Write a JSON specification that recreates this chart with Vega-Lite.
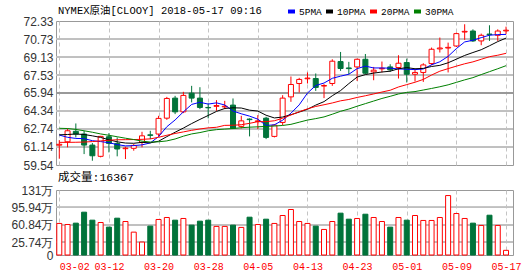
{
  "$schema": "https://vega.github.io/schema/vega-lite/v6.json",
  "background": "white",
  "padding": {"left": 10, "top": 5, "right": 4, "bottom": 2},
  "bounds": "flush",
  "spacing": 25,
  "config": {
    "view": {"stroke": "#999999", "strokeWidth": 1},
    "axis": {"labelFont": "Liberation Sans", "labelFontSize": 12, "labelColor": "#333333", "ticks": false, "domain": false, "gridColor": "#cccccc", "gridWidth": 1, "labelOverlap": false, "labelBound": false, "labelFlush": false},
    "legend": {"padding": 0, "offset": 0}
  },
  "datasets": {
    "k": [
      {"date":"03-02","open":61.30,"high":61.75,"low":60.10,"close":61.38,"vol":63.6,"5PMA":62.20,"10PMA":62.22,"20PMA":61.55,"30PMA":62.80},
      {"date":"03-05","open":61.60,"high":62.79,"low":61.11,"close":62.58,"vol":61.5,"5PMA":62.00,"10PMA":62.25,"20PMA":61.55,"30PMA":62.78},
      {"date":"03-06","open":62.53,"high":63.23,"low":61.99,"close":62.29,"vol":64.2,"5PMA":61.90,"10PMA":62.29,"20PMA":61.56,"30PMA":62.70},
      {"date":"03-07","open":62.29,"high":62.58,"low":60.51,"close":61.31,"vol":86.3,"5PMA":61.88,"10PMA":62.25,"20PMA":61.58,"30PMA":62.58},
      {"date":"03-08","open":61.31,"high":61.49,"low":59.92,"close":60.36,"vol":70.2,"5PMA":61.70,"10PMA":62.13,"20PMA":61.62,"30PMA":62.45},
      {"date":"03-09","open":60.31,"high":62.13,"low":60.22,"close":62.08,"vol":65.5,"5PMA":61.62,"10PMA":61.99,"20PMA":61.68,"30PMA":62.30},
      {"date":"03-12","open":62.05,"high":62.37,"low":60.66,"close":61.46,"vol":56.2,"5PMA":61.52,"10PMA":61.78,"20PMA":61.74,"30PMA":62.18},
      {"date":"03-13","open":61.46,"high":61.99,"low":60.31,"close":60.96,"vol":74.2,"5PMA":61.35,"10PMA":61.60,"20PMA":61.78,"30PMA":62.05},
      {"date":"03-14","open":60.99,"high":61.16,"low":60.07,"close":61.04,"vol":67.5,"5PMA":61.24,"10PMA":61.49,"20PMA":61.79,"30PMA":61.92},
      {"date":"03-15","open":61.02,"high":61.40,"low":60.81,"close":61.28,"vol":46.1,"5PMA":61.26,"10PMA":61.47,"20PMA":61.80,"30PMA":61.80},
      {"date":"03-16","open":61.55,"high":62.49,"low":61.11,"close":62.13,"vol":26.1,"5PMA":61.33,"10PMA":61.55,"20PMA":61.82,"30PMA":61.66},
      {"date":"03-19","open":62.22,"high":62.58,"low":61.84,"close":62.17,"vol":58.2,"5PMA":61.50,"10PMA":61.51,"20PMA":61.86,"30PMA":61.58},
      {"date":"03-20","open":62.29,"high":63.91,"low":62.08,"close":63.68,"vol":71.6,"5PMA":62.06,"10PMA":61.65,"20PMA":62.00,"30PMA":61.60},
      {"date":"03-21","open":63.70,"high":65.59,"low":63.55,"close":65.45,"vol":75.6,"5PMA":62.94,"10PMA":62.06,"20PMA":62.18,"30PMA":61.68},
      {"date":"03-22","open":65.48,"high":65.68,"low":64.06,"close":64.26,"vol":70.2,"5PMA":63.54,"10PMA":62.45,"20PMA":62.34,"30PMA":61.85},
      {"date":"03-23","open":64.26,"high":66.04,"low":64.15,"close":65.72,"vol":73.6,"5PMA":64.26,"10PMA":62.82,"20PMA":62.48,"30PMA":62.10},
      {"date":"03-26","open":65.92,"high":66.57,"low":65.10,"close":65.48,"vol":60.2,"5PMA":64.92,"10PMA":63.22,"20PMA":62.62,"30PMA":62.30},
      {"date":"03-27","open":65.48,"high":66.45,"low":64.50,"close":64.65,"vol":68.2,"5PMA":65.11,"10PMA":63.59,"20PMA":62.74,"30PMA":62.42},
      {"date":"03-28","open":64.65,"high":65.03,"low":63.68,"close":64.62,"vol":70.2,"5PMA":64.95,"10PMA":63.94,"20PMA":62.84,"30PMA":62.58},
      {"date":"03-29","open":64.75,"high":65.30,"low":64.35,"close":64.82,"vol":57.6,"5PMA":65.06,"10PMA":64.30,"20PMA":62.89,"30PMA":62.68},
      {"date":"03-30","open":64.70,"high":65.24,"low":64.50,"close":64.76,"vol":57.6,"5PMA":64.87,"10PMA":64.56,"20PMA":63.06,"30PMA":62.73},
      {"date":"04-02","open":64.86,"high":65.45,"low":62.73,"close":62.79,"vol":60.2,"5PMA":64.33,"10PMA":64.62,"20PMA":63.07,"30PMA":62.78},
      {"date":"04-03","open":62.97,"high":63.91,"low":62.79,"close":63.46,"vol":55.6,"5PMA":64.09,"10PMA":64.60,"20PMA":63.12,"30PMA":62.85},
      {"date":"04-04","open":63.62,"high":63.68,"low":62.08,"close":63.57,"vol":76.2,"5PMA":63.88,"10PMA":64.41,"20PMA":63.24,"30PMA":62.90},
      {"date":"04-05","open":63.40,"high":63.97,"low":62.73,"close":63.46,"vol":61.5,"5PMA":63.61,"10PMA":64.33,"20PMA":63.39,"30PMA":62.93},
      {"date":"04-06","open":63.70,"high":63.82,"low":61.84,"close":61.99,"vol":72.2,"5PMA":63.05,"10PMA":63.96,"20PMA":63.39,"30PMA":62.97},
      {"date":"04-09","open":62.08,"high":63.17,"low":61.99,"close":63.08,"vol":63.6,"5PMA":63.11,"10PMA":63.72,"20PMA":63.47,"30PMA":63.00},
      {"date":"04-10","open":63.32,"high":65.74,"low":63.08,"close":65.48,"vol":79.6,"5PMA":63.52,"10PMA":63.80,"20PMA":63.69,"30PMA":63.05},
      {"date":"04-11","open":65.59,"high":67.40,"low":65.15,"close":66.69,"vol":91.7,"5PMA":64.14,"10PMA":64.01,"20PMA":63.98,"30PMA":63.15},
      {"date":"04-12","open":66.78,"high":67.28,"low":65.98,"close":67.14,"vol":67.5,"5PMA":64.88,"10PMA":64.24,"20PMA":64.27,"30PMA":63.34},
      {"date":"04-13","open":67.20,"high":67.76,"low":66.78,"close":67.26,"vol":63.6,"5PMA":65.93,"10PMA":64.49,"20PMA":64.53,"30PMA":63.53},
      {"date":"04-16","open":67.22,"high":67.67,"low":66.12,"close":66.43,"vol":58.2,"5PMA":66.60,"10PMA":64.86,"20PMA":64.74,"30PMA":63.66},
      {"date":"04-17","open":66.55,"high":66.72,"low":65.48,"close":66.60,"vol":51.5,"5PMA":66.82,"10PMA":65.17,"20PMA":64.89,"30PMA":63.81},
      {"date":"04-18","open":66.78,"high":68.93,"low":66.57,"close":68.76,"vol":67.5,"5PMA":67.24,"10PMA":65.69,"20PMA":65.05,"30PMA":64.05},
      {"date":"04-19","open":68.73,"high":69.58,"low":67.90,"close":68.11,"vol":84.3,"5PMA":67.43,"10PMA":66.15,"20PMA":65.24,"30PMA":64.31},
      {"date":"04-20","open":68.16,"high":68.70,"low":67.60,"close":68.10,"vol":72.2,"5PMA":67.60,"10PMA":66.77,"20PMA":65.36,"30PMA":64.51},
      {"date":"04-23","open":68.25,"high":68.99,"low":67.01,"close":68.93,"vol":73.6,"5PMA":68.10,"10PMA":67.35,"20PMA":65.54,"30PMA":64.76},
      {"date":"04-24","open":68.93,"high":69.40,"low":67.60,"close":67.69,"vol":82.2,"5PMA":68.32,"10PMA":67.57,"20PMA":65.69,"30PMA":64.99},
      {"date":"04-25","open":67.81,"high":68.25,"low":67.07,"close":67.96,"vol":75.6,"5PMA":68.16,"10PMA":67.70,"20PMA":65.85,"30PMA":65.22},
      {"date":"04-26","open":68.08,"high":68.73,"low":67.76,"close":68.13,"vol":67.5,"5PMA":68.16,"10PMA":67.80,"20PMA":66.02,"30PMA":65.45},
      {"date":"04-27","open":68.25,"high":68.49,"low":67.81,"close":67.99,"vol":56.2,"5PMA":68.14,"10PMA":67.87,"20PMA":66.18,"30PMA":65.64},
      {"date":"04-30","open":68.20,"high":69.29,"low":67.22,"close":68.58,"vol":75.6,"5PMA":68.07,"10PMA":68.09,"20PMA":66.47,"30PMA":65.85},
      {"date":"05-01","open":68.64,"high":68.99,"low":66.87,"close":67.60,"vol":70.2,"5PMA":68.05,"10PMA":68.19,"20PMA":66.68,"30PMA":65.99},
      {"date":"05-02","open":67.60,"high":68.05,"low":66.96,"close":67.76,"vol":79.6,"5PMA":68.01,"10PMA":68.09,"20PMA":66.89,"30PMA":66.06},
      {"date":"05-03","open":67.76,"high":68.58,"low":66.92,"close":68.43,"vol":69.6,"5PMA":68.07,"10PMA":68.12,"20PMA":67.14,"30PMA":66.20},
      {"date":"05-04","open":68.55,"high":69.97,"low":68.40,"close":69.82,"vol":69.6,"5PMA":68.44,"10PMA":68.29,"20PMA":67.53,"30PMA":66.34},
      {"date":"05-07","open":69.85,"high":70.86,"low":69.53,"close":69.93,"vol":75.6,"5PMA":68.71,"10PMA":68.39,"20PMA":67.87,"30PMA":66.49},
      {"date":"05-08","open":69.93,"high":70.41,"low":67.76,"close":69.99,"vol":119.8,"5PMA":69.19,"10PMA":68.62,"20PMA":68.10,"30PMA":66.66},
      {"date":"05-09","open":70.11,"high":71.30,"low":70.02,"close":71.21,"vol":83.6,"5PMA":69.88,"10PMA":68.94,"20PMA":68.32,"30PMA":66.88},
      {"date":"05-10","open":71.35,"high":72.04,"low":70.65,"close":71.41,"vol":73.6,"5PMA":70.47,"10PMA":69.27,"20PMA":68.53,"30PMA":67.10},
      {"date":"05-11","open":71.44,"high":71.59,"low":70.47,"close":70.56,"vol":64.2,"5PMA":70.62,"10PMA":69.53,"20PMA":68.70,"30PMA":67.30},
      {"date":"05-14","open":70.56,"high":71.21,"low":70.18,"close":71.06,"vol":59.6,"5PMA":70.85,"10PMA":69.78,"20PMA":68.93,"30PMA":67.57},
      {"date":"05-15","open":71.17,"high":71.95,"low":70.56,"close":71.12,"vol":80.2,"5PMA":71.07,"10PMA":70.13,"20PMA":69.16,"30PMA":67.83},
      {"date":"05-16","open":71.06,"high":71.59,"low":70.56,"close":71.44,"vol":59.6,"5PMA":71.12,"10PMA":70.50,"20PMA":69.29,"30PMA":68.09},
      {"date":"05-17","open":71.45,"high":71.83,"low":71.15,"close":71.51,"vol":9.4,"5PMA":71.14,"10PMA":70.81,"20PMA":69.46,"30PMA":68.36}
    ]
  },
  "data": {"name": "k"},
  "vconcat": [
    {
      "width": 457,
      "height": 144,
      "title": {"text": "NYMEX原油[CLOOY] 2018-05-17 09:16", "anchor": "start", "frame": "group", "font": "Liberation Mono, Noto Sans CJK SC", "fontSize": 10.5, "fontWeight": "normal", "color": "#000000", "baseline": "alphabetic", "offset": 7, "dx": 2, "dy": 16},
      "layer": [
        {
          "mark": {"type": "rule", "color": "#999999", "strokeWidth": 1},
          "encoding": {
            "y": {"datum": 65.94, "type": "quantitative", "title": null,
                  "scale": {"domain": [59.54, 72.33], "nice": false, "zero": false},
                  "axis": {"values": [59.54, 61.14, 62.74, 64.34, 65.94, 67.53, 69.13, 70.73, 72.33], "tickCount": 20, "format": ".2f", "labelPadding": 3, "labelOverlap": false, "grid": false}}
          }
        },
        {"mark": {"type": "rule", "color": "#c0c0c0", "strokeWidth": 1}, "encoding": {"y": {"datum": 61.14, "type": "quantitative", "title": null}}},
        {"mark": {"type": "rule", "color": "#c0c0c0", "strokeWidth": 1}, "encoding": {"y": {"datum": 62.74, "type": "quantitative", "title": null}}},
        {"mark": {"type": "rule", "color": "#c0c0c0", "strokeWidth": 1}, "encoding": {"y": {"datum": 64.34, "type": "quantitative", "title": null}}},
        {"mark": {"type": "rule", "color": "#c0c0c0", "strokeWidth": 1}, "encoding": {"y": {"datum": 67.53, "type": "quantitative", "title": null}}},
        {"mark": {"type": "rule", "color": "#c0c0c0", "strokeWidth": 1}, "encoding": {"y": {"datum": 69.13, "type": "quantitative", "title": null}}},
        {"mark": {"type": "rule", "color": "#c0c0c0", "strokeWidth": 1}, "encoding": {"y": {"datum": 70.73, "type": "quantitative", "title": null}}},
        {
          "mark": {"type": "rule", "strokeWidth": 1},
          "encoding": {
            "x": {"field": "date", "type": "ordinal", "sort": null, "title": null,
                  "scale": {"type": "point", "padding": 0.62, "align": 0.32},
                  "axis": {"values": ["03-02","03-12","03-20","03-28","04-05","04-13","04-23","05-01","05-09","05-17"], "labels": false, "grid": true, "gridDash": [4, 3], "gridColor": "#c4c4c4"}},
            "y": {"field": "low", "type": "quantitative", "title": null},
            "y2": {"field": "high"},
            "color": {"condition": {"test": "datum.close >= datum.open", "value": "#ff0000"}, "value": "#00733a"}
          }
        },
        {
          "mark": {"type": "bar", "size": 5, "strokeWidth": 1},
          "encoding": {
            "x": {"field": "date", "type": "ordinal", "sort": null, "title": null},
            "y": {"field": "open", "type": "quantitative", "title": null},
            "y2": {"field": "close"},
            "fill": {"condition": {"test": "datum.close >= datum.open", "value": "#ffffff"}, "value": "#00733a"},
            "stroke": {"condition": {"test": "datum.close >= datum.open", "value": "#ff0000"}, "value": "#00733a"}
          }
        },
        {
          "transform": [{"fold": ["5PMA", "10PMA", "20PMA", "30PMA"], "as": ["ma", "value"]}],
          "mark": {"type": "line", "strokeWidth": 1},
          "encoding": {
            "x": {"field": "date", "type": "ordinal", "sort": null, "title": null},
            "y": {"field": "value", "type": "quantitative", "title": null},
            "color": {"field": "ma", "type": "nominal",
                      "scale": {"domain": ["5PMA", "10PMA", "20PMA", "30PMA"], "range": ["#0000ff", "#000000", "#ff0000", "#008000"]},
                      "legend": {"orient": "none", "legendX": 230, "legendY": -15, "direction": "horizontal", "title": null,
                                 "labelFont": "Liberation Mono", "labelFontSize": 9.5, "labelColor": "#000000",
                                 "symbolType": "stroke", "symbolStrokeWidth": 4, "symbolSize": 49, "columnPadding": -4, "gridAlign": "none", "labelOffset": 2}}
          }
        }
      ]
    },
    {
      "width": 457,
      "height": 65,
      "title": {"text": "成交量:16367", "anchor": "start", "frame": "group", "font": "Liberation Mono, Noto Sans CJK SC", "fontSize": 11.5, "fontWeight": "normal", "color": "#000000", "baseline": "alphabetic", "offset": 6.5, "dx": 2, "dy": 15},
      "layer": [
        {
          "mark": {"type": "rule", "color": "#c0c0c0", "strokeWidth": 1},
          "encoding": {
            "y": {"datum": 25.74, "type": "quantitative", "title": null,
                  "scale": {"domain": [0, 131], "nice": false},
                  "axis": {"values": [0, 25.74, 60.84, 95.94, 131], "tickCount": 20, "labelExpr": "datum.value == 0 ? '0' : format(datum.value, '~f') + '万'", "labelPadding": 3, "grid": false}}
          }
        },
        {"mark": {"type": "rule", "color": "#c0c0c0", "strokeWidth": 1}, "encoding": {"y": {"datum": 60.84, "type": "quantitative", "title": null}}},
        {"mark": {"type": "rule", "color": "#c0c0c0", "strokeWidth": 1}, "encoding": {"y": {"datum": 95.94, "type": "quantitative", "title": null}}},
        {
          "mark": {"type": "bar", "size": 5, "strokeWidth": 1},
          "encoding": {
            "x": {"field": "date", "type": "ordinal", "sort": null, "title": null,
                  "scale": {"type": "point", "padding": 0.62, "align": 0.32},
                  "axis": {"values": ["03-02","03-12","03-20","03-28","04-05","04-13","04-23","05-01","05-09","05-17"], "grid": true, "gridDash": [4, 3], "gridColor": "#c4c4c4",
                           "labelFont": "Liberation Mono", "labelFontSize": 10, "labelColor": "#ff0000", "labelAngle": 0, "labelBaseline": "top", "labelPadding": 6,
                           "labelAlign": {"condition": {"test": "datum.index == 0", "value": "left"}, "value": "center"}}},
            "y": {"field": "vol", "type": "quantitative", "title": null},
            "fill": {"condition": {"test": "datum.close >= datum.open", "value": "#ffffff"}, "value": "#00733a"},
            "stroke": {"condition": {"test": "datum.close >= datum.open", "value": "#ff0000"}, "value": "#00733a"}
          }
        }
      ]
    }
  ]
}
